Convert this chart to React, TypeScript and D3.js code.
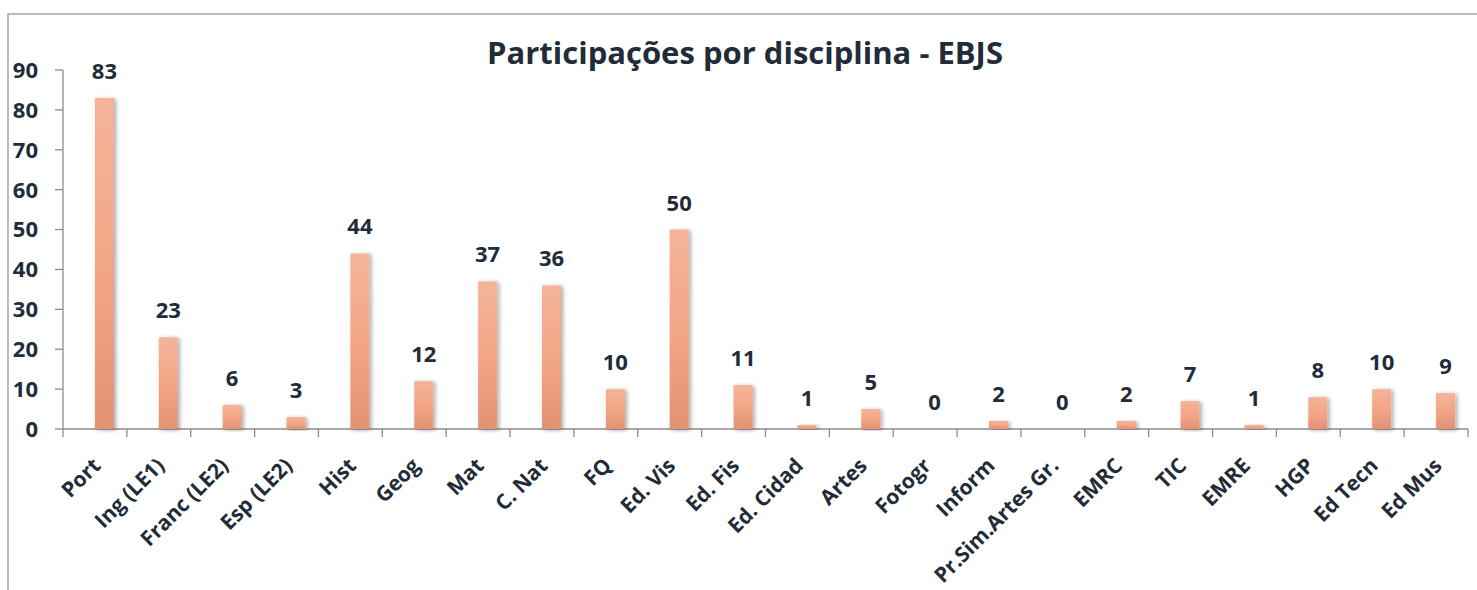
import * as d3 from "d3";
import React, { useEffect, useRef } from "react";

const categories = [
  "Port", "Ing (LE1)", "Franc (LE2)", "Esp (LE2)", "Hist", "Geog", "Mat", "C. Nat",
  "FQ", "Ed. Vis", "Ed. Fis", "Ed. Cidad", "Artes", "Fotogr", "Inform",
  "Pr.Sim.Artes Gr.", "EMRC", "TIC", "EMRE", "HGP", "Ed Tecn", "Ed Mus",
];
const values = [83, 23, 6, 3, 44, 12, 37, 36, 10, 50, 11, 1, 5, 0, 2, 0, 2, 7, 1, 8, 10, 9];
const yTicks = [0, 10, 20, 30, 40, 50, 60, 70, 80, 90];
const title = "Participações por disciplina - EBJS";

const W = 1477;
const H = 590;
const textColor = "#222b38";
const axisColor = "#8c8c8c";
const font = "'Open Sans', sans-serif";

const App = () => {
  const ref = useRef<SVGSVGElement>(null);

  useEffect(() => {
    const svg = d3.select(ref.current);
    svg.selectAll("*").remove();

    const x = d3.scaleBand().domain(categories).range([63, 1468]);
    const y = d3.scaleLinear().domain([0, 90]).range([429, 70]);

    const defs = svg.append("defs");
    const grad = defs.append("linearGradient")
      .attr("id", "barGrad").attr("x1", 0).attr("y1", 0).attr("x2", 0).attr("y2", 1);
    grad.append("stop").attr("offset", "0%").attr("stop-color", "#f4b49a");
    grad.append("stop").attr("offset", "50%").attr("stop-color", "#f3a686");
    grad.append("stop").attr("offset", "100%").attr("stop-color", "#e39274");
    const filt = defs.append("filter").attr("id", "shadow")
      .attr("x", "-50%").attr("y", "-10%").attr("width", "200%").attr("height", "120%");
    filt.append("feDropShadow").attr("dx", 2).attr("dy", 1).attr("stdDeviation", 2)
      .attr("flood-color", "#000").attr("flood-opacity", 0.35);

    // frame
    svg.append("rect")
      .attr("x", 8).attr("y", 14).attr("width", W).attr("height", H)
      .attr("fill", "#fff").attr("stroke", "#a6a6a6").attr("stroke-width", 1.5);

    // title
    svg.append("text")
      .attr("x", 745).attr("y", 64)
      .attr("text-anchor", "middle")
      .style("font-family", font).style("font-weight", "bold").style("font-size", "31px")
      .attr("fill", textColor)
      .text(title);

    // y axis
    const yAxis = svg.append("g");
    yAxis.append("line")
      .attr("x1", 63).attr("x2", 63).attr("y1", y(90)).attr("y2", y(0))
      .attr("stroke", axisColor).attr("stroke-width", 1.3);
    yTicks.forEach((t) => {
      yAxis.append("line")
        .attr("x1", 55).attr("x2", 63).attr("y1", y(t)).attr("y2", y(t))
        .attr("stroke", axisColor).attr("stroke-width", 1.3);
      yAxis.append("text")
        .attr("x", 38).attr("y", y(t)).attr("dy", "0.36em")
        .attr("text-anchor", "end")
        .style("font-family", font).style("font-weight", "bold").style("font-size", "22px")
        .attr("fill", textColor)
        .text(t);
    });

    // x axis
    const xAxis = svg.append("g");
    xAxis.append("line")
      .attr("x1", 63).attr("x2", 1468).attr("y1", y(0)).attr("y2", y(0))
      .attr("stroke", axisColor).attr("stroke-width", 1.3);
    const bounds = categories.map((c) => x(c)!).concat([x.range()[1]]);
    bounds.forEach((b) => {
      xAxis.append("line")
        .attr("x1", b).attr("x2", b).attr("y1", y(0)).attr("y2", y(0) + 8)
        .attr("stroke", axisColor).attr("stroke-width", 1.3);
    });

    const bw = 19;
    const cx = (c: string) => x(c)! + x.bandwidth() / 2;

    // bars
    svg.append("g").selectAll("rect")
      .data(values.map((v, i) => ({ v, c: categories[i] })).filter((d) => d.v > 0))
      .enter().append("rect")
      .attr("x", (d) => cx(d.c))
      .attr("y", (d) => y(d.v))
      .attr("width", bw)
      .attr("height", (d) => y(0) - y(d.v))
      .attr("fill", "url(#barGrad)")
      .attr("filter", "url(#shadow)");

    // value labels
    svg.append("g").selectAll("text")
      .data(values.map((v, i) => ({ v, c: categories[i] })))
      .enter().append("text")
      .attr("x", (d) => cx(d.c) + bw / 2)
      .attr("y", (d) => y(d.v) - 19)
      .attr("text-anchor", "middle")
      .style("font-family", font).style("font-weight", "bold").style("font-size", "22px")
      .attr("fill", textColor)
      .text((d) => d.v);

    // category labels
    svg.append("g").selectAll("text")
      .data(categories)
      .enter().append("text")
      .attr("transform", (c) => `translate(${cx(c) + 7},${y(0) + 38}) rotate(-45)`)
      .attr("text-anchor", "end")
      .style("font-family", font).style("font-weight", "bold").style("font-size", "21px")
      .attr("fill", textColor)
      .text((c) => c);
  }, []);

  return (
    <svg
      ref={ref}
      width={W}
      height={H}
      style={{ position: "absolute", left: 0, top: 0, background: "#fff" }}
    />
  );
};

export default App;
